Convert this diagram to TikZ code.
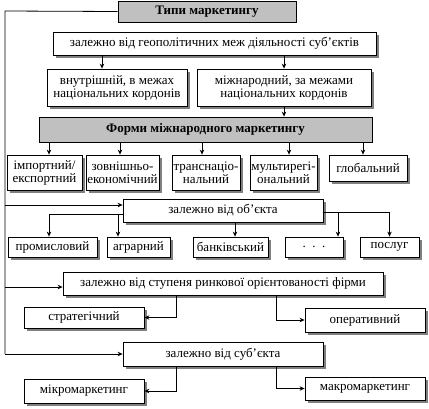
\documentclass[tikz,border=0pt]{standalone}
\usepackage{fontspec}
\setmainfont{Liberation Serif}
\usetikzlibrary{arrows.meta,shadows}
\definecolor{headgray}{RGB}{192,192,192}
\definecolor{shadegray}{RGB}{128,128,128}

\begin{document}
\begin{tikzpicture}[x=1pt,y=-1pt,>={Stealth[length=5pt,width=4.5pt]},line width=0.8pt]
\tikzstyle{kind}=[draw,fill=white,inner sep=1pt,align=center,font=\fontsize{13}{13}\selectfont,drop shadow={shadow xshift=3pt,shadow yshift=-3pt,fill=shadegray,opacity=1}]
\tikzstyle{head}=[draw,fill=headgray,inner sep=1pt,align=center,font=\fontsize{13}{13}\selectfont\bfseries]
\useasboundingbox (0,0) rectangle (429,408);
% top
\node[head,minimum width=178pt,minimum height=21pt] (types) at (207,11.5) {Типи маркетингу};
\node[kind,minimum width=323pt,minimum height=23pt] (geo) at (214.5,43.5) {залежно від геополітичних меж діяльності суб’єктів};
\node[kind,minimum width=140pt,minimum height=37pt] (inner) at (117,87.5) {внутрішній, в межах\\національних кордонів};
\node[kind,minimum width=174pt,minimum height=37pt] (intl) at (284,87.5) {міжнародний, за межами\\національних кордонів};
\node[head,minimum width=333pt,minimum height=25pt] (forms) at (205.5,129.5) {Форми міжнародного маркетингу};
\node[kind,minimum width=75pt,minimum height=35pt] (imp) at (44.5,172.5) {імпортний/\\експортний};
\node[kind,minimum width=73pt,minimum height=35pt] (ext) at (122.5,172.5) {зовнішньо-\\економічний};
\node[kind,minimum width=68pt,minimum height=35pt] (trans) at (206,172.5) {транснаціо-\\нальний};
\node[kind,minimum width=67pt,minimum height=35pt] (multi) at (283.5,172.5) {мультирегі-\\ональний};
\node[kind,minimum width=78pt,minimum height=26pt] (glob) at (368,168) {глобальний};
% object
\node[kind,minimum width=200pt,minimum height=23pt] (obj) at (223,210.5) {залежно від об’єкта};
\node[kind,minimum width=89pt,minimum height=20pt] (ind) at (52.5,247) {промисловий};
\node[kind,minimum width=63pt,minimum height=20pt] (agr) at (138.5,247) {аграрний};
\node[kind,minimum width=75pt,minimum height=20pt] (bank) at (230.5,247) {банківський};
\node[kind,minimum width=58pt,minimum height=20pt] (dots) at (314,247) {.\ \ .\ \ .};
\node[kind,minimum width=59pt,minimum height=20pt] (serv) at (389.5,247) {послуг};
% market orientation
\node[kind,minimum width=320pt,minimum height=23pt] (orient) at (223,283.5) {залежно від ступеня ринкової орієнтованості фірми};
\node[kind,minimum width=120pt,minimum height=21pt] (strat) at (84,317.5) {стратегічний};
\node[kind,minimum width=120pt,minimum height=24pt] (oper) at (365,320) {оперативний};
% subject
\node[kind,minimum width=200pt,minimum height=24pt] (subj) at (223,354) {залежно від суб’єкта};
\node[kind,minimum width=120pt,minimum height=24pt] (micro) at (84,391) {мікромаркетинг};
\node[kind,minimum width=120pt,minimum height=23pt] (macro) at (365,388.5) {макромаркетинг};

\coordinate (rail) at (5,11);
\coordinate (objin) at ([yshift=5.5pt]obj.west);
\coordinate (orientin) at ([yshift=-3.5pt]orient.west);
\coordinate (objL) at ([yshift=-3.5pt]obj.west);
\coordinate (objR) at ([yshift=-1.5pt]obj.east);
\coordinate (agrin) at ([xshift=-20.5pt]agr.north);
\coordinate (bankin) at ([xshift=4.5pt]bank.north);
\coordinate (dotsin) at ([xshift=24pt]dots.north);
\coordinate (indin) at ([xshift=-3.5pt]ind.north);

\draw (types.west) -- (rail) -- (rail |- subj.west);
\draw[->] (rail |- objin) -- (objin);
\draw[->] (rail |- orientin) -- (orientin);
\draw[->] (rail |- subj.west) -- (subj.west);

\draw[->] (geo.south -| 102,0) -- (inner.north -| 102,0);
\draw[->] (geo.south -| intl.south) -- (intl.north);
\draw[->] (intl.south) -- (forms.north -| intl.south);
\foreach \n/\x in {imp/49,ext/120,trans/202,multi/289,glob/363}
  \draw[->] (forms.south -| \x,0) -- (\n.north -| \x,0);

\draw[->] (objL) -| (indin);
\draw[->] (objL -| agrin) -- (agrin);
\draw[->] (obj.south -| bankin) -- (bankin);
\draw[->] (objR) -| (serv.north);
\draw[->] (objR -| dotsin) -- (dotsin);

\draw[->] (orient.south -| 176,0) |- (strat.east);
\draw[->] (orient.south -| 276,0) |- (oper.west);
\draw[->] (subj.south -| 176,0) |- (micro.east);
\draw[->] (subj.south -| 276,0) |- (macro.west);
\end{tikzpicture}
\end{document}
